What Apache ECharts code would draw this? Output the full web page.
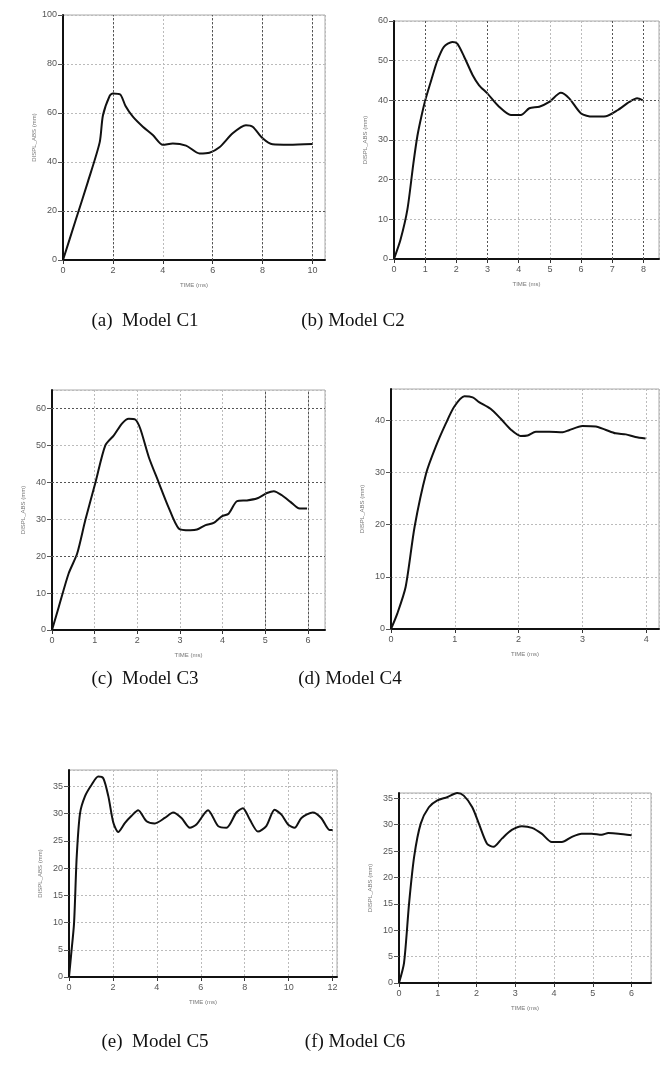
<!DOCTYPE html>
<html>
<head>
<meta charset="utf-8">
<script src="https://cdn.jsdelivr.net/npm/echarts@6/dist/echarts.min.js"></script>
<style>
  html, body { margin: 0; padding: 0; background: #fff; }
  #chart { width: 672px; height: 1073px; }
</style>
</head>
<body>
<div id="chart"></div>
<script>
//----------------------Data----------------------
// (a) Model C1
let c1_time = [0, 0.5, 1.0, 1.47, 1.6, 1.87, 2.0, 2.3, 2.5, 2.8, 3.2, 3.6, 4.0, 4.4, 4.93, 5.47, 5.87, 6.27, 6.8, 7.33, 7.6, 8.0, 8.4, 9.07, 10.0];
let c1_disp = [0, 16, 32, 48, 59, 67, 68, 67.5, 63, 58.5, 54.4, 51, 47, 47.6, 46.7, 43.5, 43.8, 46, 51.7, 55, 54.4, 49.7, 47.2, 47, 47.3];
// (b) Model C2
let c2_time = [0, 0.21, 0.43, 0.62, 0.75, 0.88, 1.02, 1.23, 1.39, 1.6, 1.87, 2.03, 2.25, 2.52, 2.73, 3.0, 3.37, 3.75, 4.07, 4.34, 4.66, 4.98, 5.35, 5.62, 6.0, 6.37, 6.8, 7.17, 7.55, 7.8, 7.98];
let c2_disp = [0, 4.9, 12.5, 24, 31, 36, 40.5, 46, 50, 53.5, 54.7, 54.3, 51, 46.4, 43.8, 41.7, 38.4, 36.3, 36.3, 38, 38.4, 39.6, 41.9, 40.5, 36.7, 35.9, 36, 37.5, 39.6, 40.5, 40];
// (c) Model C3
let c3_time = [0, 0.16, 0.39, 0.59, 0.78, 1.02, 1.25, 1.45, 1.64, 1.8, 1.95, 2.07, 2.27, 2.5, 2.73, 2.97, 3.24, 3.4, 3.6, 3.79, 3.98, 4.14, 4.34, 4.57, 4.8, 5.04, 5.2, 5.39, 5.59, 5.78, 5.98];
let c3_disp = [0, 6.3, 15.3, 20.7, 29.7, 40, 50, 52.7, 55.9, 57.2, 57, 54.5, 46.8, 40, 33.3, 27.5, 27, 27.2, 28.4, 29, 30.8, 31.5, 34.9, 35.1, 35.6, 37.1, 37.6, 36.5, 34.7, 33, 32.9];
// (d) Model C4
let c4_time = [0, 0.1, 0.23, 0.37, 0.55, 0.7, 0.86, 0.99, 1.15, 1.28, 1.38, 1.56, 1.72, 1.88, 2.03, 2.14, 2.27, 2.48, 2.69, 2.79, 3.0, 3.21, 3.36, 3.52, 3.68, 3.83, 3.99];
let c4_disp = [0, 3, 8.1, 19.6, 29.8, 34.9, 39.4, 42.6, 44.6, 44.4, 43.5, 42.2, 40.3, 38.2, 37, 37.1, 37.8, 37.8, 37.7, 38.1, 38.9, 38.8, 38.2, 37.5, 37.3, 36.8, 36.5];
// (e) Model C5
let c5_time = [0, 0.09, 0.23, 0.35, 0.5, 0.73, 1.03, 1.33, 1.56, 1.79, 2.02, 2.24, 2.55, 2.85, 3.15, 3.53, 3.91, 4.36, 4.74, 5.12, 5.5, 5.8, 6.33, 6.79, 7.17, 7.62, 7.92, 8.23, 8.6, 8.98, 9.36, 9.67, 9.97, 10.27, 10.58, 11.1, 11.48, 11.86, 12.0];
let c5_disp = [0, 3.8, 9.9, 22, 30, 33.2, 35.3, 36.8, 36.5, 33.2, 28.3, 26.6, 28.3, 29.6, 30.6, 28.6, 28.2, 29.2, 30.2, 29.2, 27.4, 28, 30.6, 27.7, 27.4, 30.2, 31, 28.9, 26.7, 27.7, 30.7, 29.8, 28, 27.4, 29.2, 30.2, 29.2, 27, 27];
// (f) Model C6
let c6_time = [0, 0.13, 0.26, 0.39, 0.56, 0.77, 0.99, 1.24, 1.5, 1.67, 1.89, 2.06, 2.27, 2.44, 2.66, 2.91, 3.17, 3.43, 3.68, 3.94, 4.2, 4.46, 4.71, 4.97, 5.23, 5.4, 5.66, 6.0];
let c6_disp = [0, 3.8, 15.1, 23.9, 30.2, 33.3, 34.6, 35.2, 36, 35.5, 33.3, 30.2, 26.4, 25.8, 27.4, 29, 29.7, 29.4, 28.3, 26.7, 26.7, 27.7, 28.3, 28.3, 28.1, 28.4, 28.3, 28];

let captions = ["(a)  Model C1", "(b) Model C2", "(c)  Model C3", "(d) Model C4", "(e)  Model C5", "(f) Model C6"];

// darker dotted grid lines seen in the scans
let dark_x = [[2, 6, 8, 10], [1, 3, 7, 8], [5, 6], [], [], []];
let dark_y = [[20], [40], [20, 40, 60], [], [], []];

//--------------------Location--------------------
let panels = [
    {left: 63,  top: 15,  width: 262, height: 245, xMax: 10.5, xInt: 2, yMax: 100, yInt: 20, time: c1_time, disp: c1_disp},
    {left: 394, top: 21,  width: 265, height: 238, xMax: 8.5,  xInt: 1, yMax: 60,  yInt: 10, time: c2_time, disp: c2_disp},
    {left: 52,  top: 390, width: 273, height: 240, xMax: 6.4,  xInt: 1, yMax: 65,  yInt: 10, time: c3_time, disp: c3_disp},
    {left: 391, top: 389, width: 268, height: 240, xMax: 4.2,  xInt: 1, yMax: 46,  yInt: 10, time: c4_time, disp: c4_disp},
    {left: 69,  top: 770, width: 268, height: 207, xMax: 12.2, xInt: 2, yMax: 38,  yInt: 5,  time: c5_time, disp: c5_disp},
    {left: 399, top: 793, width: 252, height: 190, xMax: 6.5,  xInt: 1, yMax: 36,  yInt: 5,  time: c6_time, disp: c6_disp}
];
let caption_pos = [[140, 307], [348, 307], [140, 665], [345, 665], [150, 1028], [350, 1028]];

//---------------------Build----------------------
let chart = echarts.init(document.getElementById("chart"));
let grids = [], xAxes = [], yAxes = [], series = [], titles = [];
let tick_font = {color: "#555", fontSize: 9, fontFamily: "Liberation Sans"};

panels.forEach(function (p, i) {
    grids.push({left: p.left, top: p.top, width: p.width, height: p.height,
        show: true, borderColor: "#aaa", borderWidth: 1, containLabel: false});
    xAxes.push({
        type: "value", gridIndex: i, min: 0, max: p.xMax, interval: p.xInt,
        name: "TIME (ms)", nameLocation: "middle", nameGap: 22,
        nameTextStyle: {color: "#777", fontSize: 6, fontFamily: "Liberation Sans"},
        axisLine: {show: true, lineStyle: {color: "#111", width: 2}},
        axisTick: {show: true, length: 4, lineStyle: {color: "#333"}},
        axisLabel: Object.assign({margin: 6, showMaxLabel: p.xMax % p.xInt === 0}, tick_font),
        splitLine: {show: true, lineStyle: {color: "#bbb", type: [2, 2]}}
    });
    yAxes.push({
        type: "value", gridIndex: i, min: 0, max: p.yMax, interval: p.yInt,
        name: "DISPL_ABS (mm)", nameLocation: "middle", nameGap: 26, nameRotate: 90,
        nameTextStyle: {color: "#777", fontSize: 6, fontFamily: "Liberation Sans"},
        axisLine: {show: true, lineStyle: {color: "#111", width: 2}},
        axisTick: {show: true, length: 5, lineStyle: {color: "#555"}},
        axisLabel: Object.assign({margin: 6, showMaxLabel: p.yMax % p.yInt === 0}, tick_font),
        splitLine: {show: true, lineStyle: {color: "#bbb", type: [2, 2]}}
    });
    let marks = [];
    dark_x[i].forEach(function (v) { marks.push({xAxis: v}); });
    dark_y[i].forEach(function (v) { marks.push({yAxis: v}); });
    series.push({
        type: "line", xAxisIndex: i, yAxisIndex: i,
        data: p.time.map(function (t, k) { return [t, p.disp[k]]; }),
        showSymbol: false, smooth: 0.25,
        lineStyle: {color: "#111", width: 2},
        markLine: {silent: true, symbol: "none", label: {show: false},
            lineStyle: {color: "#555", type: [2, 2], width: 1}, data: marks},
        z: 3
    });
    titles.push({
        text: captions[i], left: caption_pos[i][0], top: caption_pos[i][1], textAlign: "center",
        textStyle: {fontFamily: "Liberation Serif", fontSize: 19, fontWeight: "normal", color: "#111"}
    });
});

chart.setOption({
    backgroundColor: "#fff",
    animation: false,
    title: titles,
    grid: grids,
    xAxis: xAxes,
    yAxis: yAxes,
    series: series
});
</script>
</body>
</html>
